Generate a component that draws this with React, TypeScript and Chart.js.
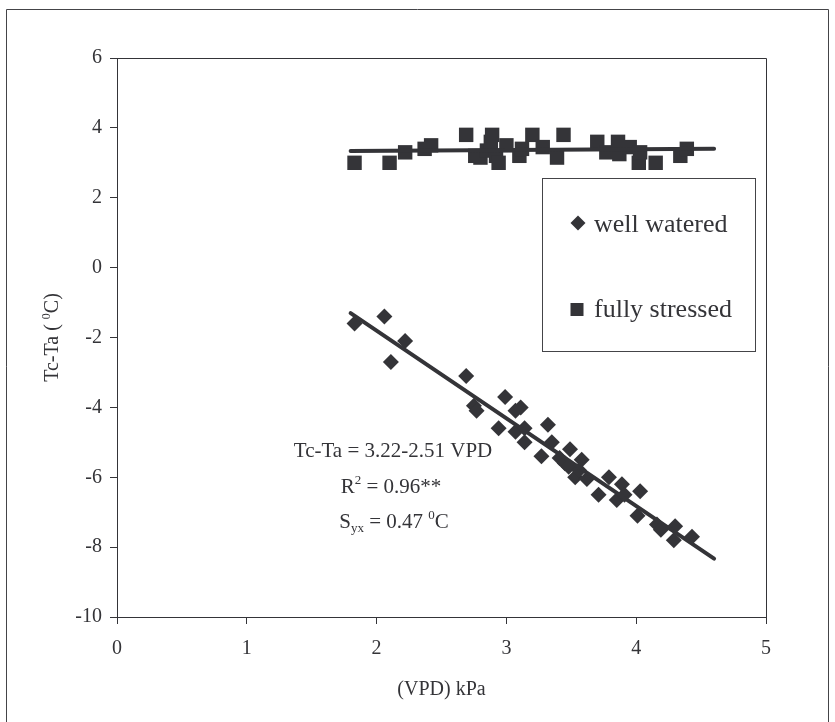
import { useEffect, useRef } from 'react';
import { Chart, registerables } from 'chart.js';

Chart.register(...registerables);

// ---------- data ----------
const seriesNames = ['well watered', 'fully stressed'];

const wellWateredVPD = [
  1.83, 2.06, 2.11, 2.22, 2.69, 2.75, 2.77, 2.99, 2.94, 3.07, 3.11, 3.07, 3.14,
  3.14, 3.27, 3.32, 3.35, 3.41, 3.45, 3.49, 3.48, 3.53, 3.58, 3.56, 3.62, 3.71,
  3.79, 3.85, 3.89, 3.91, 4.03, 4.01, 4.16, 4.19, 4.3, 4.29, 4.43,
];
const wellWateredDT = [
  -1.6, -1.4, -2.7, -2.1, -3.1, -3.95, -4.1, -3.7, -4.6, -4.1, -4.0, -4.7, -4.6,
  -5.0, -5.4, -4.5, -5.0, -5.45, -5.6, -5.2, -5.7, -6.0, -5.5, -5.8, -6.05, -6.5,
  -6.0, -6.65, -6.2, -6.5, -6.4, -7.1, -7.35, -7.5, -7.4, -7.8, -7.7,
];

const fullyStressedVPD = [
  1.83, 2.1, 2.22, 2.37, 2.42, 2.69, 2.76, 2.8, 2.85, 2.88, 2.89, 2.92, 2.94, 3.0,
  3.1, 3.12, 3.2, 3.28, 3.39, 3.44, 3.7, 3.77, 3.86, 3.87, 3.95, 4.02, 4.03, 4.15,
  4.34, 4.39,
];
const fullyStressedDT = [
  3.0, 3.0, 3.3, 3.4, 3.5, 3.8, 3.2, 3.15, 3.35, 3.6, 3.8, 3.2, 3.0, 3.5,
  3.2, 3.4, 3.8, 3.45, 3.15, 3.8, 3.6, 3.3, 3.6, 3.25, 3.45, 3.0, 3.3, 3.0,
  3.2, 3.4,
];

const wellFitVPD = [1.8, 4.6];
const wellFitDT = [-1.3, -8.33];
const stressFitVPD = [1.8, 4.6];
const stressFitDT = [3.34, 3.4];

const xTicks = [0, 1, 2, 3, 4, 5];
const yTicks = [-10, -8, -6, -4, -2, 0, 2, 4, 6];

const xTitle = '(VPD) kPa';
const yTitleMain = 'Tc-Ta ( ';
const yTitleSup = '0';
const yTitleEnd = 'C)';
const equationText = 'Tc-Ta = 3.22-2.51 VPD';
const r2Value = ' = 0.96**';
const syxValue = ' = 0.47 ';

// ---------- style ----------
const INK = '#343438';
const SERIF = '"Liberation Serif", "Times New Roman", serif';

type Seg = { t: string; size: number; dy?: number };

function drawRich(ctx: CanvasRenderingContext2D, segs: Seg[], cx: number, baseline: number) {
  const widths = segs.map((s) => {
    ctx.font = `${s.size}px ${SERIF}`;
    return ctx.measureText(s.t).width;
  });
  const total = widths.reduce((a, b) => a + b, 0);
  let x = cx - total / 2;
  ctx.textAlign = 'left';
  ctx.textBaseline = 'alphabetic';
  segs.forEach((s, i) => {
    ctx.font = `${s.size}px ${SERIF}`;
    ctx.fillText(s.t, x, baseline + (s.dy || 0));
    x += widths[i];
  });
}

const zip = (xs: number[], ys: number[]) => xs.map((x, i) => ({ x, y: ys[i] }));

const decorPlugin = {
  id: 'decor',
  beforeDraw(chart: any) {
    const ctx: CanvasRenderingContext2D = chart.ctx;
    ctx.save();
    ctx.fillStyle = '#ffffff';
    ctx.fillRect(0, 0, chart.width, chart.height);
    // outer frame
    ctx.strokeStyle = '#444448';
    ctx.lineWidth = 1;
    ctx.beginPath();
    ctx.moveTo(6.5, chart.height + 5);
    ctx.lineTo(6.5, 9.5);
    ctx.lineTo(828.5, 9.5);
    ctx.lineTo(828.5, chart.height + 5);
    ctx.stroke();
    ctx.restore();
  },
  afterDraw(chart: any) {
    const ctx: CanvasRenderingContext2D = chart.ctx;
    const a = chart.chartArea;
    ctx.save();
    // top and right edges of the plot box
    ctx.strokeStyle = INK;
    ctx.lineWidth = 1;
    ctx.beginPath();
    ctx.moveTo(Math.round(a.left) + 0.5, Math.round(a.top) + 0.5);
    ctx.lineTo(Math.round(a.right) + 0.5, Math.round(a.top) + 0.5);
    ctx.lineTo(Math.round(a.right) + 0.5, Math.round(a.bottom) + 0.5);
    ctx.stroke();

    ctx.fillStyle = INK;
    // axis titles
    drawRich(ctx, [{ t: xTitle, size: 20 }], (a.left + a.right) / 2, 695);
    ctx.save();
    ctx.translate(58, (a.top + a.bottom) / 2);
    ctx.rotate(-Math.PI / 2);
    drawRich(
      ctx,
      [
        { t: yTitleMain, size: 20 },
        { t: yTitleSup, size: 12, dy: -8 },
        { t: yTitleEnd, size: 20 },
      ],
      0,
      0
    );
    ctx.restore();

    // regression annotation
    drawRich(ctx, [{ t: equationText, size: 21 }], 393, 457);
    drawRich(
      ctx,
      [
        { t: 'R', size: 21 },
        { t: '2', size: 13, dy: -9 },
        { t: r2Value, size: 21 },
      ],
      391,
      493
    );
    drawRich(
      ctx,
      [
        { t: 'S', size: 21 },
        { t: 'yx', size: 13, dy: 4 },
        { t: syxValue, size: 21 },
        { t: '0', size: 13, dy: -9 },
        { t: 'C', size: 21 },
      ],
      394,
      528
    );

    // legend box
    ctx.strokeStyle = '#444448';
    ctx.lineWidth = 1;
    ctx.strokeRect(542.5, 178.5, 213, 173);
    // diamond marker
    ctx.fillStyle = INK;
    ctx.beginPath();
    const dx = 578, dy = 223, r = 7.5;
    ctx.moveTo(dx, dy - r);
    ctx.lineTo(dx + r, dy);
    ctx.lineTo(dx, dy + r);
    ctx.lineTo(dx - r, dy);
    ctx.closePath();
    ctx.fill();
    // square marker
    ctx.fillRect(570.5, 303, 13, 13);
    ctx.font = `26px ${SERIF}`;
    ctx.textAlign = 'left';
    ctx.textBaseline = 'alphabetic';
    ctx.fillText(seriesNames[0], 594, 231.5);
    ctx.fillText(seriesNames[1], 594, 317);
    ctx.restore();
  },
};

export default function App() {
  const ref = useRef<HTMLCanvasElement | null>(null);

  useEffect(() => {
    if (!ref.current) return;
    const chart = new Chart(ref.current, {
      type: 'scatter',
      data: {
        datasets: [
          {
            label: 'well fit',
            data: zip(wellFitVPD, wellFitDT),
            showLine: true,
            borderColor: INK,
            borderWidth: 4,
            borderCapStyle: 'round',
            pointRadius: 0,
            pointHoverRadius: 0,
            order: -1,
          } as any,
          {
            label: 'stress fit',
            data: zip(stressFitVPD, stressFitDT),
            showLine: true,
            borderColor: INK,
            borderWidth: 4,
            borderCapStyle: 'round',
            pointRadius: 0,
            pointHoverRadius: 0,
            order: -1,
          } as any,
          {
            label: seriesNames[0],
            data: zip(wellWateredVPD, wellWateredDT),
            pointStyle: 'rectRot',
            pointRadius: 8,
            pointHoverRadius: 8,
            backgroundColor: INK,
            borderWidth: 0,
          },
          {
            label: seriesNames[1],
            data: zip(fullyStressedVPD, fullyStressedDT),
            pointStyle: 'rect',
            pointRadius: 10.2,
            pointHoverRadius: 10.2,
            backgroundColor: INK,
            borderWidth: 0,
          },
        ],
      },
      options: {
        responsive: false,
        animation: false,
        events: [],
        layout: { padding: { left: 0, top: 58, right: 69, bottom: 0 } },
        plugins: {
          legend: { display: false },
          tooltip: { enabled: false },
        },
        scales: {
          x: {
            type: 'linear',
            min: 0,
            max: 5,
            afterFit: (s: any) => {
              s.height = 105;
            },
            afterBuildTicks: (s: any) => {
              s.ticks = xTicks.map((v) => ({ value: v }));
            },
            grid: {
              drawOnChartArea: false,
              drawTicks: true,
              tickLength: 7,
              color: INK,
            },
            border: { display: true, color: INK, width: 1 },
            ticks: {
              color: INK,
              padding: 13,
              font: { family: SERIF, size: 20 },
            },
          },
          y: {
            type: 'linear',
            min: -10,
            max: 6,
            afterFit: (s: any) => {
              s.width = 117;
            },
            afterBuildTicks: (s: any) => {
              s.ticks = yTicks.map((v) => ({ value: v }));
            },
            grid: {
              drawOnChartArea: false,
              drawTicks: true,
              tickLength: 7,
              color: INK,
            },
            border: { display: true, color: INK, width: 1 },
            ticks: {
              color: INK,
              padding: 8,
              font: { family: SERIF, size: 20 },
            },
          },
        },
      },
      plugins: [decorPlugin],
    });
    return () => chart.destroy();
  }, []);

  return (
    <canvas
      ref={ref}
      width={835}
      height={722}
      style={{ position: 'absolute', left: 0, top: 0, width: 835, height: 722 }}
    />
  );
}
